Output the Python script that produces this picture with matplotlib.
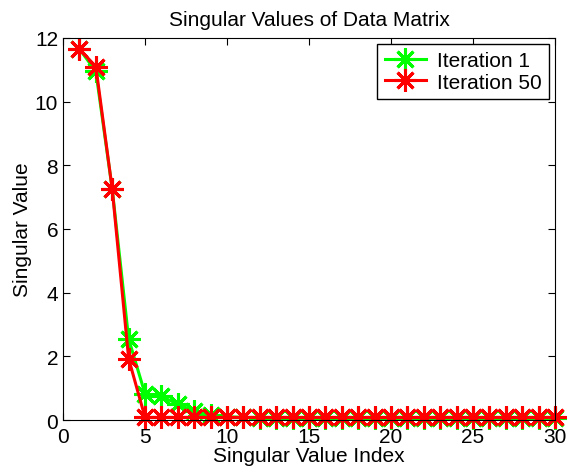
import numpy as np
import matplotlib
matplotlib.use('Agg')
import matplotlib.pyplot as plt

plt.rcParams['font.family'] = ['Liberation Sans', 'DejaVu Sans']

idx = np.arange(1, 31)
iter1 = [11.65, 10.95, 7.25, 2.55, 0.82, 0.74, 0.5, 0.28, 0.15, 0.1,
         0.08, 0.07, 0.07, 0.07, 0.07, 0.07, 0.07, 0.07, 0.07, 0.07,
         0.07, 0.07, 0.07, 0.07, 0.07, 0.07, 0.07, 0.07, 0.07, 0.07]
iter50 = [11.65, 11.1, 7.25, 1.93, 0.08, 0.08, 0.08, 0.08, 0.08, 0.08,
          0.08, 0.08, 0.08, 0.08, 0.08, 0.08, 0.08, 0.08, 0.08, 0.08,
          0.08, 0.08, 0.08, 0.08, 0.08, 0.08, 0.08, 0.08, 0.08, 0.08]

fig = plt.figure(figsize=(5.68, 4.77), dpi=100)
ax = fig.add_axes([0.111, 0.1174, 0.866, 0.801])

star = (8, 2, 0)
ax.plot(idx, iter1, color='#00ff00', lw=2.2, marker=star, markersize=16,
        markeredgewidth=2.2, label='Iteration 1', clip_on=False)
ax.plot(idx, iter50, color='#ff0000', lw=2.2, marker=star, markersize=16,
        markeredgewidth=2.2, label='Iteration 50', clip_on=False)

ax.set_xlim(0, 30)
ax.set_ylim(0, 12)
ax.set_xticks(range(0, 31, 5))
ax.set_yticks(range(0, 13, 2))
ax.tick_params(direction='in', top=True, right=True, labelsize=15, length=5)
ax.tick_params(axis='x', pad=5)
ax.set_xlabel('Singular Value Index', fontsize=15, labelpad=0)
ax.set_ylabel('Singular Value', fontsize=15, labelpad=2)
ax.set_title('Singular Values of Data Matrix', fontsize=15, pad=9)

leg = ax.legend(loc='upper right', fontsize=15, fancybox=False, framealpha=1,
                edgecolor='black', borderaxespad=0.3, handlelength=2.0,
                handletextpad=0.5, borderpad=0.35, labelspacing=0.1)
leg.get_frame().set_linewidth(1)

plt.savefig('out.png', dpi=100)
